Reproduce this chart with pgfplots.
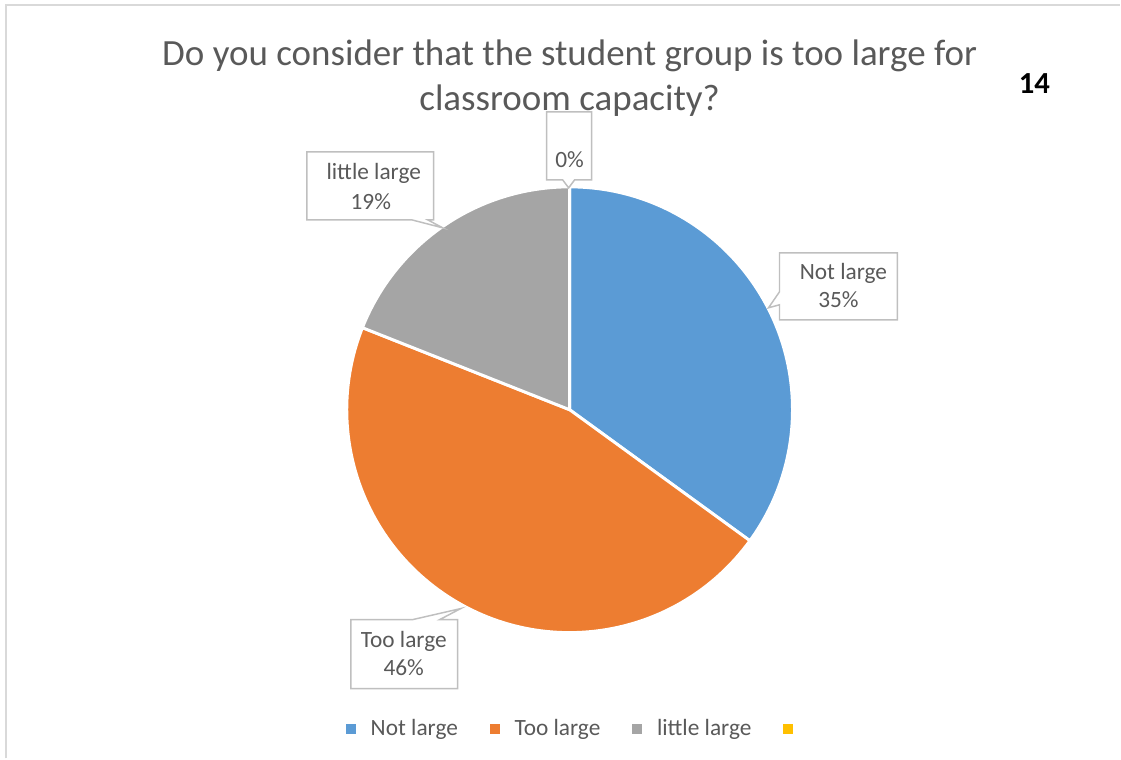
\documentclass[border=0pt]{standalone}
\usepackage{pgfplots}
\pgfplotsset{compat=1.18}
\usepackage{fontspec}
\setmainfont{Carlito}
\definecolor{cblue}{HTML}{5B9BD5}
\definecolor{corange}{HTML}{ED7D31}
\definecolor{cgray}{HTML}{A5A5A5}
\definecolor{cyellow}{HTML}{FFC000}
\definecolor{ctext}{HTML}{595959}
\definecolor{cframe}{HTML}{D9D9D9}
\definecolor{cbox}{HTML}{BFBFBF}
\def\R{167.25pt}
% slice values (percent)
\def\vA{35}\def\vB{46}\def\vC{19}\def\vD{0}
\begin{document}
\begin{tikzpicture}
\begin{axis}[
  width=840.75pt, height=569.25pt, scale only axis,
  xmin=0, xmax=1121, ymin=0, ymax=759,
  hide axis, clip=false,
  legend columns=4,
  legend image code/.code={\fill[#1, draw=none] (0pt,-3.75pt) rectangle (7.5pt,3.75pt);},
  legend style={draw=none, fill=none, inner sep=0pt,
    font=\fontsize{17.5}{21}\selectfont, text=ctext,
    at={(axis description cs:0.3087,0.0395)}, anchor=west,
    /tikz/every even column/.append style={column sep=22pt},
    /tikz/every odd column/.append style={column sep=9pt}},
]
\path (axis cs:0,0) rectangle (axis cs:1121,759);
\addlegendimage{fill=cblue}\addlegendentry{Not large}
\addlegendimage{fill=corange}\addlegendentry{Too large}
\addlegendimage{fill=cgray}\addlegendentry{little large}
\addlegendimage{fill=cyellow}\addlegendentry{}
% frame
\draw[cframe, line width=1.1pt] (axis cs:6,0) -- (axis cs:6,754) -- (axis cs:1121,754);
% pie
\filldraw[fill=cblue, draw=white, line width=2.2pt, line join=round] (axis cs:570,349) -- ++(90:\R) arc[start angle=90, end angle={90-3.6*\vA}, radius=\R] -- cycle;
\filldraw[fill=corange, draw=white, line width=2.2pt, line join=round] (axis cs:570,349) -- ++({90-3.6*\vA}:\R) arc[start angle={90-3.6*\vA}, end angle={90-3.6*(\vA+\vB)}, radius=\R] -- cycle;
\filldraw[fill=cgray, draw=white, line width=2.2pt, line join=round] (axis cs:570,349) -- ++({90-3.6*(\vA+\vB)}:\R) arc[start angle={90-3.6*(\vA+\vB)}, end angle={90-3.6*(\vA+\vB+\vC)}, radius=\R] -- cycle;
\draw[white, line width=2.2pt] (axis cs:570,349) -- ++({90-3.6*(\vA+\vB+\vC+\vD)}:\R);
% title
\node[anchor=base, font=\fontsize{27.75}{33}\selectfont, text=ctext] at (axis cs:570,693) {Do you consider that the student group is too large for};
\node[anchor=base, font=\fontsize{27.75}{33}\selectfont, text=ctext] at (axis cs:570,648) {classroom capacity?};
\node[anchor=base, font=\fontsize{23}{27}\selectfont\bfseries] at (axis cs:1035,665) {14};
% callouts
\draw[cbox, fill=white, line width=1.1pt] (axis cs:547,647) -- (axis cs:592,647) -- (axis cs:592,579) -- (axis cs:575,579) -- (axis cs:569,571) -- (axis cs:563,579) -- (axis cs:547,579) -- cycle;
\node[anchor=base, font=\fontsize{17.5}{21}\selectfont, text=ctext] at (axis cs:570,591) {0\%};
\draw[cbox, fill=white, line width=1.1pt] (axis cs:307,607) -- (axis cs:434,607) -- (axis cs:434,539) -- (axis cs:428,539) -- (axis cs:443,531) -- (axis cs:412,539) -- (axis cs:307,539) -- cycle;
\node[anchor=base, font=\fontsize{17.5}{21}\selectfont, text=ctext] at (axis cs:374,579) {little large};
\node[anchor=base, font=\fontsize{17.5}{21}\selectfont, text=ctext] at (axis cs:371,549) {19\%};
\draw[cbox, fill=white, line width=1.1pt] (axis cs:780,506) -- (axis cs:898,506) -- (axis cs:898,439) -- (axis cs:780,439) -- (axis cs:780,454) -- (axis cs:769,451) -- (axis cs:780,467) -- cycle;
\node[anchor=base, font=\fontsize{17.5}{21}\selectfont, text=ctext] at (axis cs:844,479) {Not large};
\node[anchor=base, font=\fontsize{17.5}{21}\selectfont, text=ctext] at (axis cs:839,451) {35\%};
\draw[cbox, fill=white, line width=1.1pt] (axis cs:351,139) -- (axis cs:413,139) -- (axis cs:461,150) -- (axis cs:440,139) -- (axis cs:458,139) -- (axis cs:458,70) -- (axis cs:351,70) -- cycle;
\node[anchor=base, font=\fontsize{17.5}{21}\selectfont, text=ctext] at (axis cs:404,111) {Too large};
\node[anchor=base, font=\fontsize{17.5}{21}\selectfont, text=ctext] at (axis cs:404,83) {46\%};
\end{axis}
\end{tikzpicture}
\end{document}
